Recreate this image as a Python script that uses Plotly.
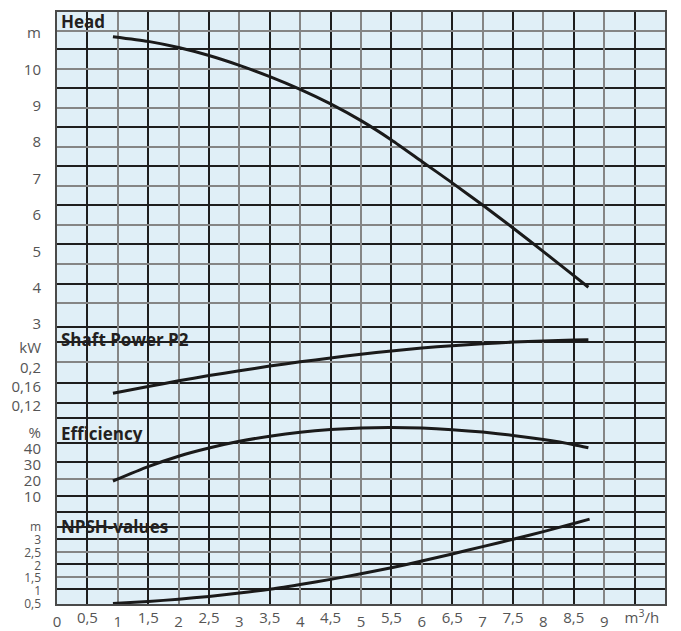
import plotly.graph_objects as go

# ---------------- data ----------------
flow_head = [0.92, 1.5, 2, 2.5, 3, 3.5, 4, 4.5, 5, 5.5, 6, 6.5, 7, 7.5, 8, 8.5, 8.74]
head_m = [10.90, 10.77, 10.60, 10.38, 10.11, 9.80, 9.45, 9.05, 8.59, 8.06, 7.47, 6.88, 6.27, 5.64, 4.99, 4.33, 4.01]

flow_power = [0.92, 1.5, 2, 2.5, 3, 3.5, 4, 4.5, 5, 5.5, 6, 6.5, 7, 7.5, 8, 8.5, 8.74]
power_kw = [0.147, 0.161, 0.173, 0.184, 0.194, 0.204, 0.213, 0.221, 0.229, 0.236, 0.242, 0.247, 0.251, 0.2545, 0.257, 0.259, 0.2595]

flow_eff = [0.92, 1.5, 2, 2.5, 3, 3.5, 4, 4.5, 5, 5.5, 6, 6.5, 7, 7.5, 8, 8.5, 8.74]
eff_pct = [20.0, 29.0, 35.5, 40.6, 44.8, 48.0, 50.5, 52.2, 53.2, 53.5, 53.1, 52.1, 50.6, 48.5, 45.9, 42.7, 40.8]

flow_npsh = [0.92, 1.5, 2, 2.5, 3, 3.5, 4, 4.5, 5, 5.5, 6, 6.5, 7, 7.5, 8, 8.5, 8.76]
npsh_m = [0.50, 0.58, 0.67, 0.78, 0.91, 1.06, 1.25, 1.45, 1.67, 1.91, 2.17, 2.45, 2.74, 3.03, 3.33, 3.65, 3.82]

x_int_ticks = [0, 1, 2, 3, 4, 5, 6, 7, 8, 9]
x_int_labels = ["0", "1", "2", "3", "4", "5", "6", "7", "8", "9"]
x_half_ticks = [0.5, 1.5, 2.5, 3.5, 4.5, 5.5, 6.5, 7.5, 8.5, 9.62]
x_half_labels = ["0,5", "1,5", "2,5", "3,5", "4,5", "5,5", "6,5", "7,5", "8,5", "m<sup>3</sup>/h"]
x_black_grid = [0.5, 1.5, 2.5, 3.5, 4.5, 5.5, 6.5, 7.5, 8.5, 9.5]

head_ticks = [3, 4, 5, 6, 7, 8, 9, 10, 11]
head_labels = ["3", "4", "5", "6", "7", "8", "9", "10", "m"]
power_ticks = [0.12, 0.16, 0.2, 0.242]
power_labels = ["0,12", "0,16", "0,2", "kW"]
eff_ticks = [10, 20, 30, 40, 50]
eff_labels = ["10", "20", "30", "40", "%"]
npsh_ticks = [0.5, 1, 1.5, 2, 2.5, 3, 3.51]
npsh_labels = ["0,5", "1", "1,5", "2", "2,5", "3", "m"]

panel_titles = ["Head", "Shaft Power P2", "Efficiency", "NPSH-values"]

# ---------------- layout geometry ----------------
# the page body has an 8px margin, so the figure is placed at (8, 8) in the window
OFF = 8
W, H = 681 - OFF, 631 - OFF
TOP, BOTTOM, LEFT, RIGHT = 12, 604, 57, 665          # plot area in window pixels
PH = BOTTOM - TOP

def dom(y_top, y_bot):
    return [(BOTTOM - y_bot) / PH, (BOTTOM - y_top) / PH]

# horizontal grid rows of the printed grid paper (window pixels from top)
grid_gray = [31, 69, 108, 147, 186, 225, 264, 303, 362, 479, 552, 577]
grid_black = [49, 88, 127, 166, 205, 244, 284, 326.7, 341.7, 383, 403, 418,
              443, 462, 496, 512, 527, 539, 564, 589]

GRAY = "#858585"
BLACK = "#1e1e1e"
BG = "#e0eff7"
LINE = "#1a1a1a"
TXT = "#555555"
FONT = "Open Sans"

fig = go.Figure()

# grid carrier (invisible) on x / y
fig.add_trace(go.Scatter(x=[None], y=[None], xaxis="x", yaxis="y",
                         showlegend=False, hoverinfo="skip"))

series = [
    (flow_head, head_m, "y2"),
    (flow_power, power_kw, "y3"),
    (flow_eff, eff_pct, "y4"),
    (flow_npsh, npsh_m, "y5"),
]
for xs, ys, ya in series:
    fig.add_trace(go.Scatter(x=xs, y=ys, xaxis="x2", yaxis=ya, mode="lines",
                             line=dict(color=LINE, width=3, shape="spline", smoothing=0.6),
                             showlegend=False, hoverinfo="skip"))

tickfont = dict(family=FONT, size=15, color=TXT)

layout = dict(
    width=W, height=H,
    margin=dict(l=LEFT - OFF, r=681 - RIGHT, t=TOP - OFF, b=631 - BOTTOM, pad=0, autoexpand=False),
    paper_bgcolor="white",
    plot_bgcolor="rgba(0,0,0,0)",
    showlegend=False,
    xaxis=dict(domain=[0, 1], range=[0, 10], anchor="y", automargin=False,
               tickmode="array", tickvals=x_int_ticks, ticktext=x_int_labels,
               showgrid=True, gridcolor=GRAY, gridwidth=2,
               minor=dict(tickmode="array", tickvals=x_black_grid,
                          showgrid=True, gridcolor=BLACK, gridwidth=1.5),
               ticks="", tickfont=tickfont, ticklabelstandoff=3,
               zeroline=False, showline=True, mirror=True, linecolor="#4a4a4a", linewidth=2),
    yaxis=dict(domain=[0, 1], range=[BOTTOM, TOP], anchor="x", automargin=False,
               tickmode="array", tickvals=grid_gray, showticklabels=False,
               showgrid=True, gridcolor=GRAY, gridwidth=2,
               minor=dict(tickmode="array", tickvals=grid_black,
                          showgrid=True, gridcolor=BLACK, gridwidth=1.5),
               ticks="", zeroline=False, showline=True, mirror=True,
               linecolor="#4a4a4a", linewidth=2),
    xaxis2=dict(domain=[0, 1], range=[0, 10], anchor="y5", side="bottom", automargin=False,
                tickmode="array", tickvals=x_half_ticks, ticktext=x_half_labels,
                showgrid=False, zeroline=False, ticks="", tickfont=tickfont,
                ticklabelstandoff=3, showline=False),
)

panels = [
    ("yaxis2", dom(TOP, 326.7), [11 + 21 / 36.375, 3 - 2.7 / 36.375], head_ticks, head_labels, 15),
    ("yaxis3", dom(326.7, 418), [0.2 + 41.3 * 0.08 / 38, 0.2 - 50 * 0.08 / 38], power_ticks, power_labels, 15),
    ("yaxis4", dom(418, 512), [40 + 31 / 1.6, 40 - 63 / 1.6], eff_ticks, eff_labels, 15),
    ("yaxis5", dom(512, BOTTOM), [3 + 28 / 25.4, 3 - 64 / 25.4], npsh_ticks, npsh_labels, 12),
]
for name, d, rng, tv, tt, fs in panels:
    layout[name] = dict(domain=d, range=[rng[1], rng[0]], anchor="x2", automargin=False,
                        tickmode="array", tickvals=tv, ticktext=tt,
                        showgrid=False, zeroline=False, ticks="", showline=False,
                        tickfont=dict(family=FONT, size=fs, color=TXT),
                        ticklabelstandoff=15)

title_y = [21, 339, 433, 526]
annotations = []
for t, yp in zip(panel_titles, title_y):
    annotations.append(dict(text=f"<b>{t}</b>", xref="paper", yref="paper",
                            x=0.003, y=(BOTTOM - yp) / PH, xanchor="left", yanchor="middle",
                            showarrow=False,
                            font=dict(family=FONT, size=17, color="#231f20")))
layout["annotations"] = annotations
layout["shapes"] = [dict(type="rect", xref="paper", yref="paper", x0=0, x1=1, y0=0, y1=1,
                         fillcolor=BG, line=dict(width=0), layer="below")]

fig.update_layout(**layout)
fig.write_html("out.html")
